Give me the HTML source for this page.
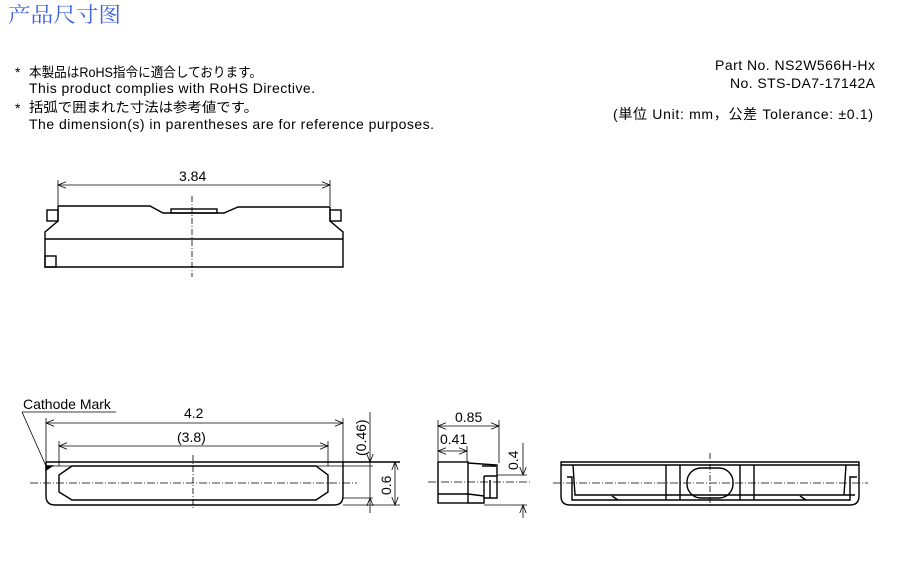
<!DOCTYPE html>
<html><head><meta charset="utf-8"><style>
html,body{margin:0;padding:0;background:#fff;}
svg{display:block;}
text{font-family:"Liberation Sans","Noto Sans CJK JP",sans-serif;font-size:14px;fill:#000;}
.j{font-size:13.5px;}
</style></head><body>
<svg width="898" height="566" viewBox="0 0 898 566" xmlns="http://www.w3.org/2000/svg">
<defs>
<marker id="a" viewBox="0 0 10 10" refX="10" refY="5" markerWidth="10" markerHeight="8" orient="auto-start-reverse" markerUnits="userSpaceOnUse"><path d="M0,1 L10,5 L0,9" fill="none" stroke="#000" stroke-width="1"/></marker>
</defs>
<text x="8" y="22" style="font-family:'Noto Serif CJK SC',serif;font-size:21px;fill:#3f63e0" textLength="113" lengthAdjust="spacingAndGlyphs">产品尺寸图</text>
<text x="15" y="77">*</text><text class="j" x="29" y="77" textLength="233" lengthAdjust="spacingAndGlyphs">本製品はRoHS指令に適合しております。</text>
<text x="29" y="93" textLength="286">This product complies with RoHS Directive.</text>
<text x="15" y="113">*</text><text class="j" x="29" y="112" textLength="229" lengthAdjust="spacingAndGlyphs">括弧で囲まれた寸法は参考値です。</text>
<text x="29" y="129" textLength="405">The dimension(s) in parentheses are for reference purposes.</text>
<text x="875" y="70" text-anchor="end" textLength="160">Part No. NS2W566H-Hx</text>
<text x="875" y="88" text-anchor="end" textLength="145">No. STS-DA7-17142A</text>
<text x="873" y="119" text-anchor="end" textLength="260">(単位 Unit: mm，公差 Tolerance: ±0.1)</text>

<g fill="none" stroke="#000" stroke-width="1.4">
<line x1="58" y1="180" x2="58" y2="206" stroke-width="0.8"/>
<line x1="330" y1="180" x2="330" y2="206" stroke-width="0.8"/>
<line x1="58" y1="185" x2="330" y2="185" stroke-width="0.8" marker-start="url(#a)" marker-end="url(#a)"/>
<path d="M58,206 L150,206 L163,213 L224,213 L238,207 L330,207"/>
<rect x="171" y="209" width="46" height="4"/>
<rect x="47" y="210" width="11" height="11"/>
<rect x="330" y="210" width="11" height="11"/>
<path d="M58,206 L58,221 L45,232 L45,267 L343,267 L343,232 L330,221 L330,207"/>
<line x1="45" y1="239" x2="343" y2="239"/>
<rect x="45" y="256" width="11" height="11"/>
<line x1="192" y1="196" x2="192" y2="277" stroke-width="0.8" stroke-dasharray="6,2,1,2"/>

<line x1="22" y1="412" x2="116" y2="412" stroke-width="0.8"/>
<line x1="22" y1="412" x2="46" y2="466" stroke-width="0.8"/>
<line x1="46" y1="418" x2="46" y2="462" stroke-width="0.8"/>
<line x1="343" y1="418" x2="343" y2="462" stroke-width="0.8"/>
<line x1="59" y1="441" x2="59" y2="466" stroke-width="0.8"/>
<line x1="328" y1="441" x2="328" y2="466" stroke-width="0.8"/>
<line x1="46" y1="423" x2="343" y2="423" stroke-width="0.8" marker-start="url(#a)" marker-end="url(#a)"/>
<line x1="59" y1="446" x2="328" y2="446" stroke-width="0.8" marker-start="url(#a)" marker-end="url(#a)"/>
<line x1="46" y1="462" x2="400" y2="462"/>
<path d="M46,462 L46,496 Q46,505 55,505 L334,505 Q343,505 343,496 L343,462"/>
<line x1="46" y1="466" x2="373" y2="466" stroke-width="0.8"/>
<line x1="343" y1="498" x2="373" y2="498" stroke-width="0.8"/>
<line x1="343" y1="505" x2="400" y2="505" stroke-width="0.8"/>
<path d="M72,466 L316,466 L328,475 L328,492 L316,500 L72,500 L59,492 L59,475 Z"/>
<path d="M46,470 L52,466 L46,466 Z" fill="#000"/>
<line x1="30" y1="483" x2="357" y2="483" stroke-width="0.8" stroke-dasharray="8,2,1,2"/>
<line x1="193" y1="455" x2="193" y2="510" stroke-width="0.8" stroke-dasharray="6,2,1,2"/>
<line x1="370" y1="412" x2="370" y2="462" stroke-width="0.8" marker-end="url(#a)"/>
<line x1="370" y1="513" x2="370" y2="498" stroke-width="0.8" marker-end="url(#a)"/>
<line x1="370" y1="462" x2="370" y2="498" stroke-width="0.8"/>
<line x1="395" y1="462" x2="395" y2="505" stroke-width="0.8" marker-start="url(#a)" marker-end="url(#a)"/>

<line x1="438" y1="420" x2="438" y2="462" stroke-width="0.8"/>
<line x1="499" y1="420" x2="499" y2="463" stroke-width="0.8"/>
<line x1="467" y1="446" x2="467" y2="462" stroke-width="0.8"/>
<line x1="438" y1="426" x2="499" y2="426" stroke-width="0.8" marker-start="url(#a)" marker-end="url(#a)"/>
<line x1="438" y1="451" x2="467" y2="451" stroke-width="0.8" marker-start="url(#a)" marker-end="url(#a)"/>
<rect x="438" y="462" width="30" height="41"/>
<line x1="438" y1="494" x2="468" y2="494"/>
<path d="M468,463 L497,465 L497,498 L484,498 L484,503 L468,503"/>
<path d="M482,466 L496,466 M484,476 L497,476 M484,476 L484,498 M490,480 L490,498 M468,494 L484,496"/>
<line x1="428" y1="482" x2="530" y2="482" stroke-width="0.8" stroke-dasharray="8,2,1,2"/>
<line x1="497" y1="475" x2="527" y2="475" stroke-width="0.8"/>
<line x1="484" y1="505" x2="527" y2="505" stroke-width="0.8"/>
<line x1="523" y1="443" x2="523" y2="475" stroke-width="0.8" marker-end="url(#a)"/>
<line x1="523" y1="518" x2="523" y2="505" stroke-width="0.8" marker-end="url(#a)"/>

<path d="M561,462 L859,462 L859,496 Q859,505 850,505 L570,505 Q561,505 561,496 Z"/>
<line x1="561" y1="465" x2="859" y2="465"/>
<path d="M573,465 L575,495 L855,495 M567,477 L572,477 L572,500 L850,500 L850,477 L857,477"/>
<path d="M846,465 L844,495"/>
<line x1="666" y1="465" x2="666" y2="500"/><line x1="680" y1="465" x2="680" y2="500"/>
<line x1="740" y1="465" x2="740" y2="500"/><line x1="754" y1="465" x2="754" y2="500"/>
<rect x="687" y="468" width="46" height="30" rx="14"/>
<path d="M612,496 L618,500 M800,496 L806,500"/>
<line x1="553" y1="483" x2="868" y2="483" stroke-width="0.8" stroke-dasharray="8,2,1,2"/>
<line x1="710" y1="453" x2="710" y2="508" stroke-width="0.8" stroke-dasharray="6,2,1,2"/>
</g>

<text x="179" y="181">3.84</text>
<text x="23" y="409">Cathode Mark</text>
<text x="184" y="418">4.2</text>
<text x="177" y="442">(3.8)</text>
<text transform="translate(366,456) rotate(-90)">(0.46)</text>
<text transform="translate(391,495) rotate(-90)">0.6</text>
<text x="455" y="422">0.85</text>
<text x="440" y="444">0.41</text>
<text transform="translate(518,470) rotate(-90)">0.4</text>
</svg>
</body></html>
